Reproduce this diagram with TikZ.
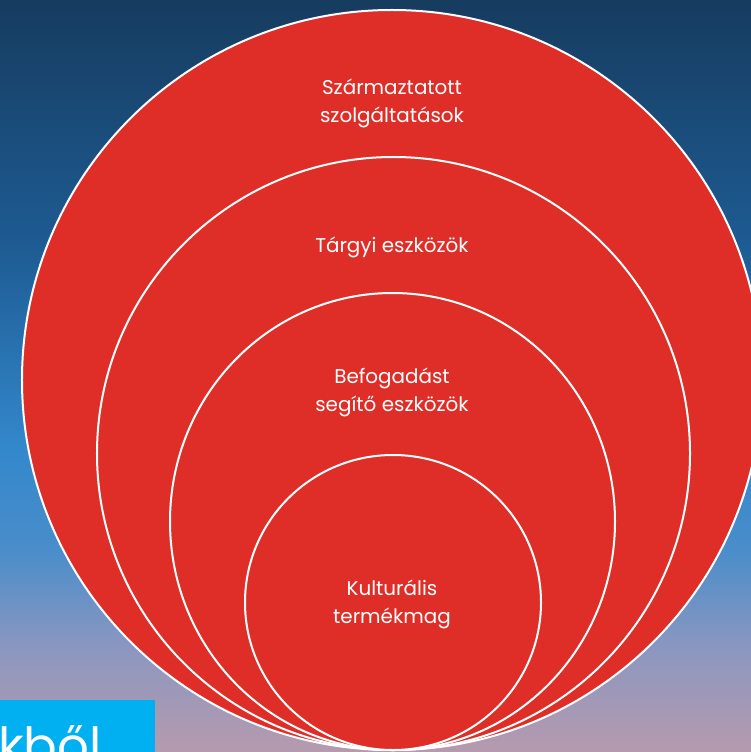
\documentclass[tikz,border=0pt]{standalone}
\usepackage{fontspec}
\setmainfont{Poppins}
\usetikzlibrary{shapes.geometric}
\definecolor{ringred}{HTML}{DE2E27}
\definecolor{boxcyan}{HTML}{00B0F0}
\definecolor{bgA}{HTML}{B69AAE}
\definecolor{bgB}{HTML}{8C97C0}
\definecolor{bgC}{HTML}{4A8DCA}
\definecolor{bgD}{HTML}{3388CC}
\definecolor{bgE}{HTML}{1E5C94}
\definecolor{bgF}{HTML}{163C5F}
\pgfdeclareverticalshading{bgshade}{100bp}{%
  color(0bp)=(bgA); color(25bp)=(bgA); color(31.8bp)=(bgB); color(38.4bp)=(bgC);
  color(45.1bp)=(bgD); color(58.4bp)=(bgE); color(75bp)=(bgF); color(100bp)=(bgF)}
\tikzset{
  ring/.style={ellipse, draw=white, line width=2bp, fill=ringred, inner sep=0pt},
  lbl/.style={text=white, align=center, font=\fontsize{20}{28}\selectfont},
}
\begin{document}
\begin{tikzpicture}[x=1bp,y=-1bp]
\useasboundingbox (0,0) rectangle (751,752);
\clip (0,0) rectangle (751,752);
\shade[shading=bgshade] (0,0) rectangle (751,752);
\node[ring, minimum width=740bp, minimum height=740bp] (c1) at (392,380) {};
\node[ring, minimum width=593bp, minimum height=593bp] (c2) at (393.5,453.5) {};
\node[ring, minimum width=445bp, minimum height=457bp] (c3) at (392.5,521.5) {};
\node[ring, minimum width=296bp, minimum height=295bp] (c4) at (393,602.5) {};
\node[lbl] (t1) at (392,103) {Származtatott\\szolgáltatások};
\node[lbl] (t2) at (392,247) {Tárgyi eszközök};
\node[lbl] (t3) at (392,392) {Befogadást\\segítő eszközök};
\node[lbl] (t4) at (392,604) {Kulturális\\termékmag};
\fill[boxcyan] (0,700) rectangle (155,752);
\node[anchor=base west, inner sep=0pt, text=white, font=\fontsize{50}{60}\selectfont] (tb) at (-2,763) {kből};
\end{tikzpicture}
\end{document}
